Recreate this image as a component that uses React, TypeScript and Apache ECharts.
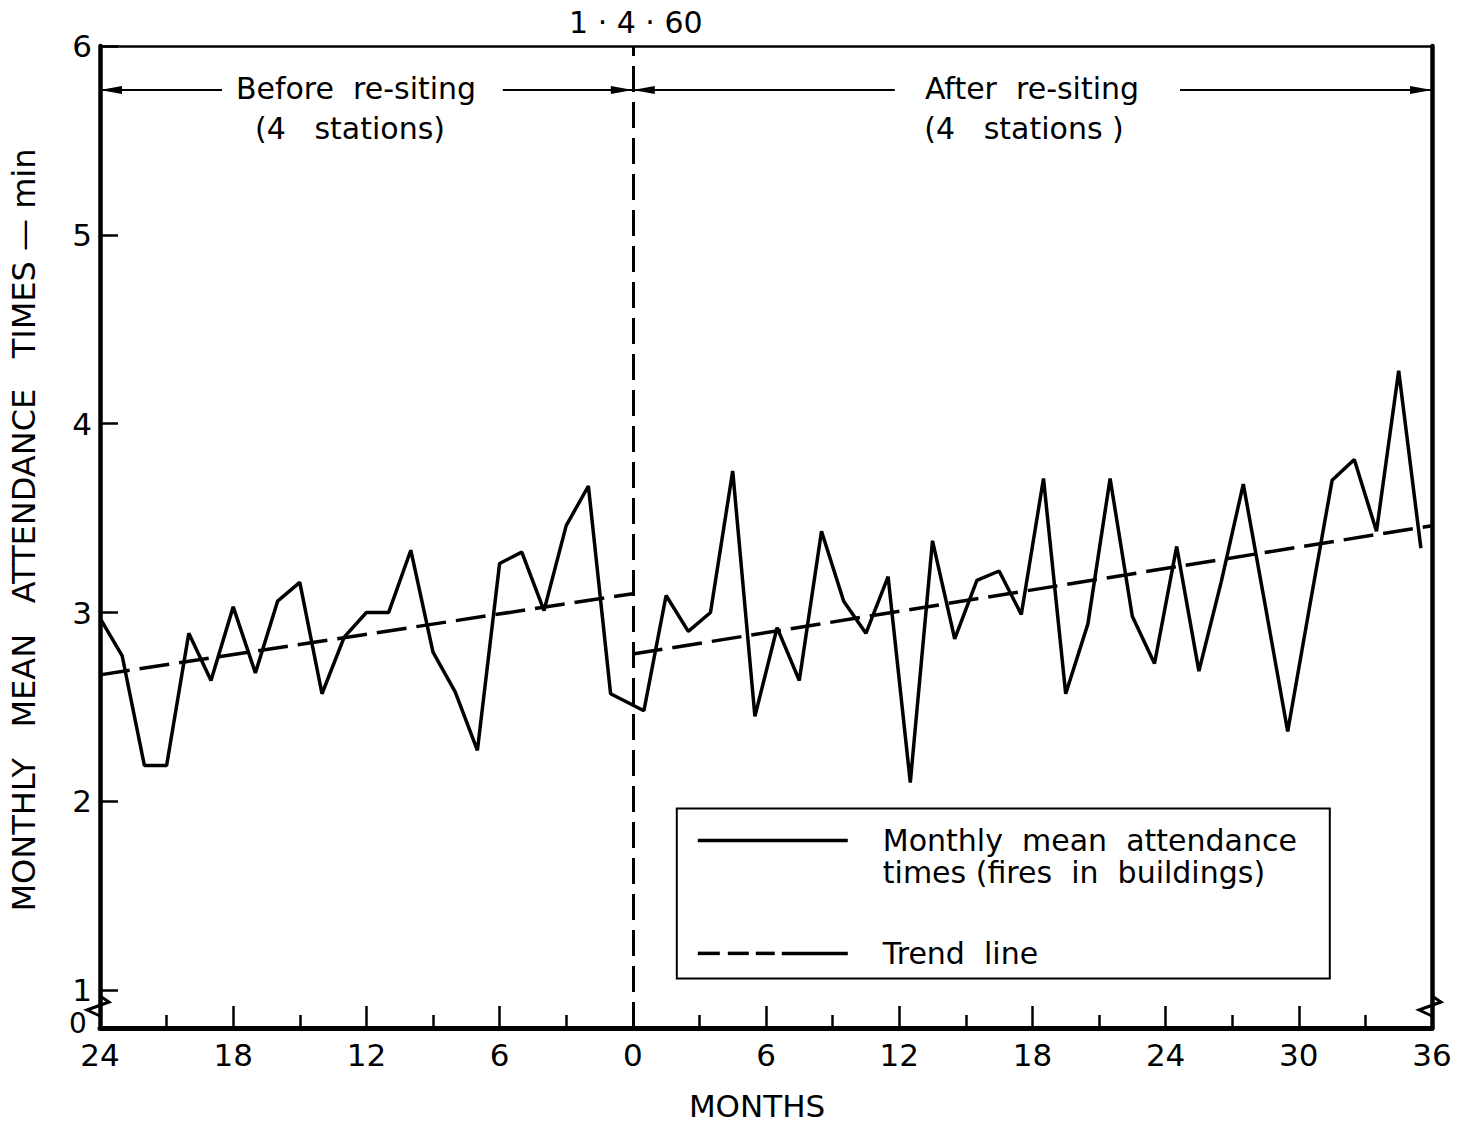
import React, { useEffect, useRef } from "react";
import * as echarts from "echarts";

// ---- data ----
const leftMonths = [-24, -23, -22, -21, -20, -19, -18, -17, -16, -15, -14, -13, -12, -11, -10, -9, -8, -7, -6, -5, -4, -3, -2, -1];
const leftValues = [2.97, 2.77, 2.19, 2.19, 2.89, 2.64, 3.03, 2.68, 3.06, 3.16, 2.57, 2.87, 3.0, 3.0, 3.33, 2.79, 2.58, 2.27, 3.26, 3.32, 3.01, 3.46, 3.67, 2.57];
const rightMonths = [0.5, 1.5, 2.5, 3.5, 4.5, 5.5, 6.5, 7.5, 8.5, 9.5, 10.5, 11.5, 12.5, 13.5, 14.5, 15.5, 16.5, 17.5, 18.5, 19.5, 20.5, 21.5, 22.5, 23.5, 24.5, 25.5, 26.5, 27.5, 28.5, 29.5, 30.5, 31.5, 32.5, 33.5, 34.5, 35.5];
const rightValues = [2.48, 3.09, 2.9, 3.0, 3.75, 2.45, 2.92, 2.64, 3.43, 3.06, 2.89, 3.19, 2.1, 3.38, 2.86, 3.17, 3.22, 2.99, 3.71, 2.57, 2.94, 3.71, 2.98, 2.73, 3.35, 2.69, 3.16, 3.68, 3.03, 2.37, 3.04, 3.7, 3.81, 3.43, 4.28, 3.34];
const trendBefore = [[-24, 2.67], [0, 3.1]];
const trendAfter = [[0, 2.78], [36, 3.46]];
const xLabelValues = [-24, -18, -12, -6, 0, 6, 12, 18, 24, 30, 36];
const yTickValues = [1, 2, 3, 4, 5, 6];
const yLabelValues = [1, 2, 3, 4, 5, 6];

const FONT = "DejaVu Sans";
const BLACK = "#000";

export default function App() {
  const ref = useRef<HTMLDivElement>(null);
  useEffect(() => {
    if (!ref.current) return;
    const chart = echarts.init(ref.current, null, { renderer: "svg" });
    const lineData = [
      ...leftMonths.map((m, i) => [m, leftValues[i]]),
      ...rightMonths.map((m, i) => [m, rightValues[i]]),
    ];
    const option: any = {
      animation: false,
      backgroundColor: "#fff",
      grid: { left: 100, right: 25, top: 46, bottom: 96 },
      xAxis: [
        {
          type: "value",
          min: -24,
          max: 36,
          interval: 6,
          name: "MONTHS",
          nameLocation: "middle",
          nameGap: 62,
          nameTextStyle: { fontFamily: FONT, fontSize: 31, color: BLACK, padding: [0, 18, 0, 0] },
          axisLine: { show: true, onZero: false, lineStyle: { color: BLACK, width: 5 } },
          axisTick: { show: true, inside: true, length: 22, lineStyle: { color: BLACK, width: 2.5 } },
          minorTick: { show: true, splitNumber: 2, length: 13, lineStyle: { color: BLACK, width: 2.5 } },
          axisLabel: {
            customValues: xLabelValues,
            formatter: (v: number) => String(Math.abs(v)),
            fontFamily: FONT,
            fontSize: 31,
            color: BLACK,
            margin: 11,
          },
          splitLine: { show: false },
          minorSplitLine: { show: false },
        },
        {
          type: "value",
          position: "top",
          min: -24,
          max: 36,
          axisLine: { show: true, onZero: false, lineStyle: { color: BLACK, width: 2.5 } },
          axisTick: { show: false },
          axisLabel: { show: false },
          splitLine: { show: false },
        },
      ],
      yAxis: [
        {
          type: "value",
          min: 0.8,
          max: 6,
          name: "MONTHLY   MEAN   ATTENDANCE   TIMES — min",
          nameLocation: "middle",
          nameRotate: 90,
          nameGap: 60,
          nameTextStyle: { fontFamily: FONT, fontSize: 32, color: BLACK, padding: [0, 0, 0, 14] },
          axisLine: { show: true, onZero: false, lineStyle: { color: BLACK, width: 4.5 } },
          axisTick: { show: true, inside: true, length: 18, customValues: yTickValues, lineStyle: { color: BLACK, width: 2.5 } },
          axisLabel: {
            customValues: yLabelValues,
            formatter: (v: number) => String(Math.round(v)),
            fontFamily: FONT,
            fontSize: 31,
            color: BLACK,
            margin: 8,
          },
          splitLine: { show: false },
        },
        {
          type: "value",
          position: "right",
          min: 0.8,
          max: 6,
          axisLine: { show: true, onZero: false, lineStyle: { color: BLACK, width: 4.5 } },
          axisTick: { show: false },
          axisLabel: { show: false },
          splitLine: { show: false },
        },
      ],
      series: [
        {
          name: "Monthly mean attendance times (fires in buildings)",
          type: "line",
          data: lineData,
          showSymbol: false,
          symbol: "none",
          lineStyle: { color: BLACK, width: 3.5 },
          z: 5,
        },
        {
          name: "Trend line",
          type: "line",
          data: trendBefore,
          showSymbol: false,
          symbol: "none",
          lineStyle: { color: BLACK, width: 3.5, type: [30, 10] },
          z: 4,
        },
        {
          name: "Trend line after",
          type: "line",
          data: trendAfter,
          showSymbol: false,
          symbol: "none",
          lineStyle: { color: BLACK, width: 3.5, type: [30, 10] },
          z: 4,
          markLine: {
            silent: true,
            symbol: ["none", "none"],
            label: { show: false },
            lineStyle: { color: BLACK, width: 3, type: [26, 10] },
            data: [{ xAxis: 0 }],
          },
        },
      ],
    };
    chart.setOption(option);

    const px = (m: number) => chart.convertToPixel({ xAxisIndex: 0 }, m) as number;
    const py = (v: number) => chart.convertToPixel({ yAxisIndex: 0 }, v) as number;
    const xL = px(-24);
    const x0 = px(0);
    const xR = px(36);
    const yTop = py(6);
    const yBot = py(0.8);
    const arrowY = yTop + 44;
    const subY = yTop + 82;
    const txt = (text: string, x: number, y: number, size = 30, align = "center") => ({
      type: "text",
      x,
      y,
      style: { text, fontFamily: FONT, fontSize: size, fill: BLACK, align, verticalAlign: "middle" },
    });
    const seg = (x1: number, x2: number, y: number, w = 2) => ({
      type: "line",
      shape: { x1, y1: y, x2, y2: y },
      style: { stroke: BLACK, lineWidth: w },
    });
    const head = (tipX: number, y: number, dir: number) => ({
      type: "polygon",
      shape: { points: [[tipX, y], [tipX + dir * 22, y - 4], [tipX + dir * 22, y + 4]] },
      style: { fill: BLACK },
    });
    const breakMark = (x: number, dir: number) => ({
      type: "polyline",
      shape: { points: [[x, yBot - 32], [x + dir * 9, yBot - 26], [x - dir * 13, yBot - 18], [x, yBot - 12]] },
      style: { stroke: BLACK, lineWidth: 3, fill: "none" },
    });
    const legX = x0 + 44;
    const legY = py(2.0) + 7;
    const legend = [
      { type: "rect", shape: { x: legX, y: legY, width: 653, height: 170 }, style: { fill: "#fff", stroke: BLACK, lineWidth: 2 }, z: 10 },
      { ...seg(legX + 21, legX + 171, legY + 32, 3.5), z: 11 },
      { ...txt("Monthly  mean  attendance", legX + 206, legY + 32, 30, "left"), z: 11 },
      { ...txt("times (fires  in  buildings)", legX + 206, legY + 64, 30, "left"), z: 11 },
      { ...seg(legX + 21, legX + 43, legY + 145, 3.5), z: 11 },
      { ...seg(legX + 51, legX + 72, legY + 145, 3.5), z: 11 },
      { ...seg(legX + 79, legX + 98, legY + 145, 3.5), z: 11 },
      { ...seg(legX + 105, legX + 171, legY + 145, 3.5), z: 11 },
      { ...txt("Trend  line", legX + 206, legY + 145, 30, "left"), z: 11 },
    ];
    chart.setOption({
      graphic: [
        txt("1 · 4 · 60", x0 + 3, 22, 30),
        txt("0", xL - 22, yBot - 5, 28),
        seg(xL, xL + 122, arrowY),
        head(xL, arrowY, 1),
        txt("Before  re-siting", 356, arrowY - 2, 30),
        seg(x0 - 130, x0, arrowY),
        head(x0, arrowY, -1),
        txt("(4   stations)", 350, subY, 30),
        head(x0, arrowY, 1),
        seg(x0, x0 + 262, arrowY),
        txt("After  re-siting", 1032, arrowY - 2, 30),
        seg(xR - 252, xR, arrowY),
        head(xR, arrowY, -1),
        txt("(4   stations )", 1024, subY, 30),
        breakMark(xL, 1),
        breakMark(xR, 1),
        ...legend,
      ],
    });
    return () => chart.dispose();
  }, []);
  return <div ref={ref} style={{ position: "absolute", left: 0, top: 0, width: 1457, height: 1126 }} />;
}
